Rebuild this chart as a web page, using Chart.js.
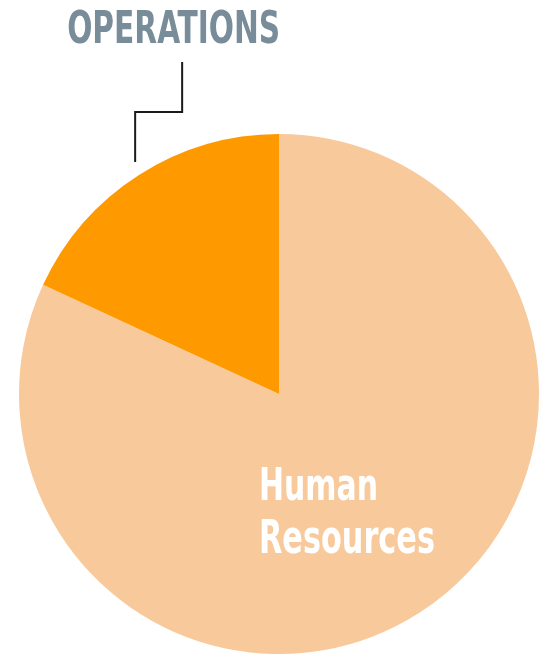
<!DOCTYPE html>
<html>
<head>
<meta charset="utf-8">
<script src="https://cdn.jsdelivr.net/npm/chart.js@4/dist/chart.umd.min.js"></script>
<style>
  html, body { margin: 0; padding: 0; background: #fff; }
  #wrap { width: 546px; height: 656px; }
</style>
</head>
<body>
<div id="wrap"><canvas id="pie" width="546" height="656"></canvas></div>
<script>
// data
const labels = ['Human Resources', 'Operations'];
const shares = [81.9, 18.1];
const sliceColors = ['#F8C99B', '#FF9900'];

const FONT = '"DejaVu Sans Condensed", "DejaVu Sans", sans-serif';

// draw bold text squeezed to a given width (stand-in for a condensed display face)
function squeezed(ctx, text, x, y, size, width, align) {
  ctx.save();
  ctx.font = 'bold ' + size + 'px ' + FONT;
  const sx = width / ctx.measureText(text).width;
  const left = align === 'center' ? x - width / 2 : x;
  ctx.translate(left, y);
  ctx.scale(sx, 1);
  ctx.textAlign = 'left';
  ctx.textBaseline = 'alphabetic';
  ctx.fillText(text, 0, 0);
  ctx.restore();
}

const sliceLabels = {
  id: 'sliceLabels',
  afterDatasetsDraw(chart) {
    const ctx = chart.ctx;
    const arcs = chart.getDatasetMeta(0).data;

    // inner label for the big slice
    const hr = arcs[0];
    const r = hr.outerRadius;
    ctx.fillStyle = '#ffffff';
    squeezed(ctx, 'Human', hr.x - 0.077 * r, hr.y + 0.408 * r, 45, 119, 'left');
    squeezed(ctx, 'Resources', hr.x - 0.077 * r, hr.y + 0.612 * r, 46, 176, 'left');

    // outside label with a stepped leader for the small slice
    const op = arcs[1];
    const a = op.startAngle + 0.512 * (op.endAngle - op.startAngle);
    const px = op.x + Math.cos(a) * op.outerRadius * 1.05;
    const py = op.y + Math.sin(a) * op.outerRadius * 1.05;
    const stepX = px + 47;
    const stepY = py - 50;
    const topY = stepY - 50;
    ctx.save();
    ctx.strokeStyle = '#1a1a1a';
    ctx.lineWidth = 2;
    ctx.beginPath();
    ctx.moveTo(px, py);
    ctx.lineTo(px, stepY);
    ctx.lineTo(stepX, stepY);
    ctx.lineTo(stepX, topY);
    ctx.stroke();
    ctx.restore();
    ctx.fillStyle = '#788D99';
    squeezed(ctx, 'OPERATIONS', stepX - 8.5, topY - 19, 44, 213, 'center');
  }
};

new Chart(document.getElementById('pie'), {
  type: 'pie',
  data: {
    labels,
    datasets: [{
      data: shares,
      backgroundColor: sliceColors,
      borderWidth: 0,
      hoverOffset: 0,
    }],
  },
  options: {
    responsive: false,
    animation: false,
    layout: { padding: { top: 134, bottom: 2, left: 19, right: 7 } },
    plugins: {
      legend: { display: false },
      tooltip: { enabled: false },
    },
  },
  plugins: [sliceLabels],
});
</script>
</body>
</html>
